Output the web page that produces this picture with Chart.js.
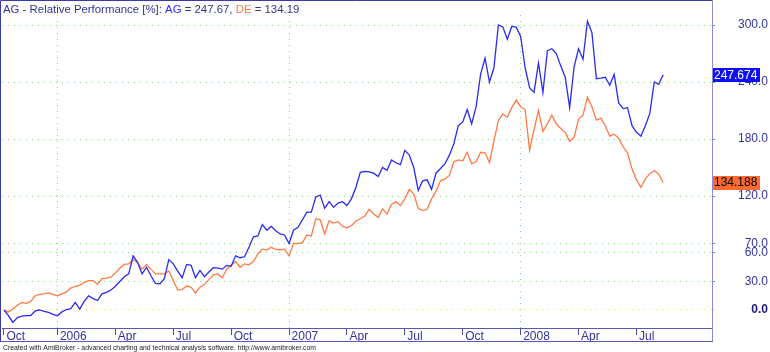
<!DOCTYPE html>
<html>
<head>
<meta charset="utf-8">
<script src="https://cdn.jsdelivr.net/npm/chart.js@4/dist/chart.umd.min.js"></script>
<style>
html,body{margin:0;padding:0;background:#fff;}
canvas{display:block;}
</style>
</head>
<body>
<canvas id="c" width="770" height="352"></canvas>
<script>
// Weekly relative performance [%] since start (Oct 2005)
const agValues = [
  0, -6, -13, -8, -6.5, -6, -6, -1, 0, -1.5,
  -2.5, -4.5, -6, -2, 0.5, 1.5, 8, 1, 9, 15,
  12, 10, 17, 18.5, 21, 25, 30, 35, 38, 57,
  50, 38, 45, 36, 28, 27.6, 33, 53, 48.6, 41,
  34, 48, 47, 34, 41.6, 35, 40, 44.5, 44, 43,
  47, 46, 57, 55, 56, 66, 77, 78, 90, 84,
  88, 83.5, 80, 79, 70, 84, 87, 95, 103, 103,
  119, 121, 107, 114, 108, 112.5, 114, 110, 117, 129,
  145, 146, 145.5, 144, 140.5, 150, 147, 158, 155, 153,
  168, 163, 150, 126, 136, 137, 127, 144, 149, 154,
  163, 175, 194, 198, 211, 196, 214, 248, 265, 240,
  255, 300, 298, 285, 298.5, 297.7, 288, 255, 234, 229,
  260, 229, 273, 275, 270, 257, 245, 213, 256, 275,
  264, 304, 292, 243.5, 244, 245, 236.5, 248, 218, 212,
  213, 194, 187, 183, 194, 207, 240, 237.5, 247.674
];
const deValues = [
  0, -2, 1, 5, 8, 7, 9, 15, 16.5, 17,
  18, 16.5, 15, 17, 19, 23, 25, 26, 29, 31,
  31, 27, 33, 33.5, 34.5, 39, 44, 48, 48.6, 53,
  50, 43, 48, 43, 38, 38, 38, 41, 31, 21,
  21.5, 25.5, 24, 17.7, 24, 27, 32, 37, 38, 34,
  43, 47, 51, 45, 48.6, 47.5, 51, 59, 64, 63,
  66, 63.7, 63.4, 64, 57, 70, 70, 71, 79, 78,
  96, 95, 80, 94, 91.5, 93, 88, 86.5, 89, 93.5,
  96, 99, 106, 101, 97.7, 106.5, 101, 111, 114, 110,
  117, 127, 122, 107, 104.7, 106, 117, 125, 136, 138,
  141.6, 156, 158, 157, 166, 154, 156, 166, 165.5, 155,
  178, 199.5, 206.5, 203, 213, 221, 214, 211, 168, 190,
  210, 188, 196, 205, 196, 191, 187, 177.5, 182, 201,
  205, 224, 214, 200, 202, 194, 183, 185, 181, 172,
  165, 148.6, 137, 129, 138, 143.5, 146.8, 143, 134.188
];
// Bar index of first week of each labelled month
const xTickWeeks  = [0, 12, 25, 38, 51, 64, 77, 90, 103, 116, 129, 142];
const xTickLabels = ['Oct', '2006', 'Apr', 'Jul', 'Oct', '2007', 'Apr', 'Jul', 'Oct', '2008', 'Apr', 'Jul'];
const yearTickWeeks = [12, 64, 116];
const yTickValues = [0, 30, 60, 70, 120, 180, 240, 300];
const seriesNames = ['AG', 'DE'];

const BLUE = '#2a2af2';
const ORANGE = '#ff7a45';
const NAVY = '#33339a';
const GRID_GREEN = '#86d486';
const FONT = "'Liberation Sans', Arial, sans-serif";

const overlay = {
  id: 'overlay',
  afterDraw(chart) {
    const ctx = chart.ctx;
    const ys = chart.scales.y;
    const area = chart.chartArea;
    ctx.save();
    // frame
    ctx.lineWidth = 1;
    ctx.strokeStyle = '#3a3aa8';
    ctx.beginPath();
    ctx.moveTo(0.5, 342); ctx.lineTo(0.5, 0.5); ctx.lineTo(712, 0.5);
    ctx.stroke();
    ctx.strokeStyle = '#8c8cd6';
    ctx.beginPath();
    ctx.moveTo(area.right + 0.5, 0); ctx.lineTo(area.right + 0.5, 342);
    ctx.stroke();
    ctx.strokeStyle = '#5858b4';
    ctx.beginPath();
    ctx.moveTo(0, 341.5); ctx.lineTo(area.right + 1, 341.5);
    ctx.stroke();

    // title
    ctx.font = '11.4px ' + FONT;
    ctx.textBaseline = 'alphabetic';
    ctx.textAlign = 'left';
    const lastAg = agValues[agValues.length - 1];
    const lastDe = deValues[deValues.length - 1];
    const parts = [
      ['AG - Relative Performance [%]: ', NAVY],
      [seriesNames[0], BLUE],
      [' = ' + lastAg.toFixed(2) + ', ', NAVY],
      [seriesNames[1], ORANGE],
      [' = ' + lastDe.toFixed(2), NAVY]
    ];
    let x = 3;
    for (const [t, c] of parts) {
      ctx.fillStyle = c;
      ctx.fillText(t, x, 12.5);
      x += ctx.measureText(t).width;
    }

    // last value boxes
    ctx.font = '12px ' + FONT;
    ctx.textBaseline = 'middle';
    const boxes = [[lastAg, '#0f0ff5', '#ffffff'], [lastDe, '#ff6a2e', '#000000']];
    for (const [v, bg, fg] of boxes) {
      const py = ys.getPixelForValue(v);
      ctx.fillStyle = bg;
      ctx.fillRect(713, Math.round(py) - 7, 47, 14);
      ctx.fillStyle = fg;
      ctx.fillText(v.toFixed(3), 714, py + 0.5);
    }

    // footer
    ctx.font = '6.85px ' + FONT;
    ctx.fillStyle = '#222222';
    ctx.textBaseline = 'alphabetic';
    ctx.fillText('Created with AmiBroker - advanced charting and technical analysis software. http://www.amibroker.com', 3, 350);
    ctx.restore();
  }
};

new Chart(document.getElementById('c'), {
  type: 'line',
  data: {
    datasets: [
      {
        label: seriesNames[0],
        data: agValues.map((v, i) => ({x: i, y: v})),
        borderColor: BLUE,
        borderWidth: 1.3,
        pointRadius: 0,
        tension: 0,
        fill: false
      },
      {
        label: seriesNames[1],
        data: deValues.map((v, i) => ({x: i, y: v})),
        borderColor: ORANGE,
        borderWidth: 1.3,
        pointRadius: 0,
        tension: 0,
        fill: false
      }
    ]
  },
  options: {
    responsive: false,
    animation: false,
    devicePixelRatio: 1,
    layout: {padding: {left: 2, right: 2, top: 15, bottom: 10}},
    plugins: {legend: {display: false}, tooltip: {enabled: false}, title: {display: false}},
    scales: {
      x: {
        type: 'linear',
        position: 'bottom',
        min: -0.449,
        max: 158.96,
        afterBuildTicks: s => { s.ticks = xTickWeeks.map(v => ({value: v})); },
        afterFit: s => { s.height = 14; },
        ticks: {
          autoSkip: false,
          maxRotation: 0,
          minRotation: 0,
          align: 'start',
          labelOffset: 2.5,
          padding: -6,
          color: NAVY,
          font: {family: FONT, size: 12},
          callback: (v, i) => xTickLabels[i]
        },
        grid: {
          drawOnChartArea: true,
          color: c => (c.tick && yearTickWeeks.includes(c.tick.value)) ? GRID_GREEN : 'rgba(0,0,0,0)',
          lineWidth: 1,
          drawTicks: true,
          tickLength: 7,
          tickColor: '#4a4aa8',
          tickWidth: 1
        },
        border: {display: true, color: '#5858b4', width: 1, dash: [1, 5]}
      },
      y: {
        type: 'linear',
        position: 'right',
        min: -18.95,
        max: 310.53,
        afterBuildTicks: s => { s.ticks = yTickValues.map(v => ({value: v})); },
        afterFit: s => { s.width = 56; },
        ticks: {
          crossAlign: 'far',
          padding: 0,
          color: c => (c.tick && c.tick.value === 0) ? '#1a1a80' : NAVY,
          font: c => ({family: FONT, size: 12, weight: (c.tick && c.tick.value === 0) ? 'bold' : 'normal'}),
          callback: v => Number(v).toFixed(1)
        },
        grid: {
          drawOnChartArea: true,
          color: c => (c.tick && c.tick.value === 0) ? '#e6e66a' : GRID_GREEN,
          lineWidth: 1,
          drawTicks: true,
          tickLength: 3,
          tickColor: c => (c.tick && c.tick.value === 0) ? '#e6e66a' : '#3cb43c',
          tickWidth: 1
        },
        border: {display: false, dash: [1, 5]}
      }
    }
  },
  plugins: [overlay]
});
</script>
</body>
</html>
